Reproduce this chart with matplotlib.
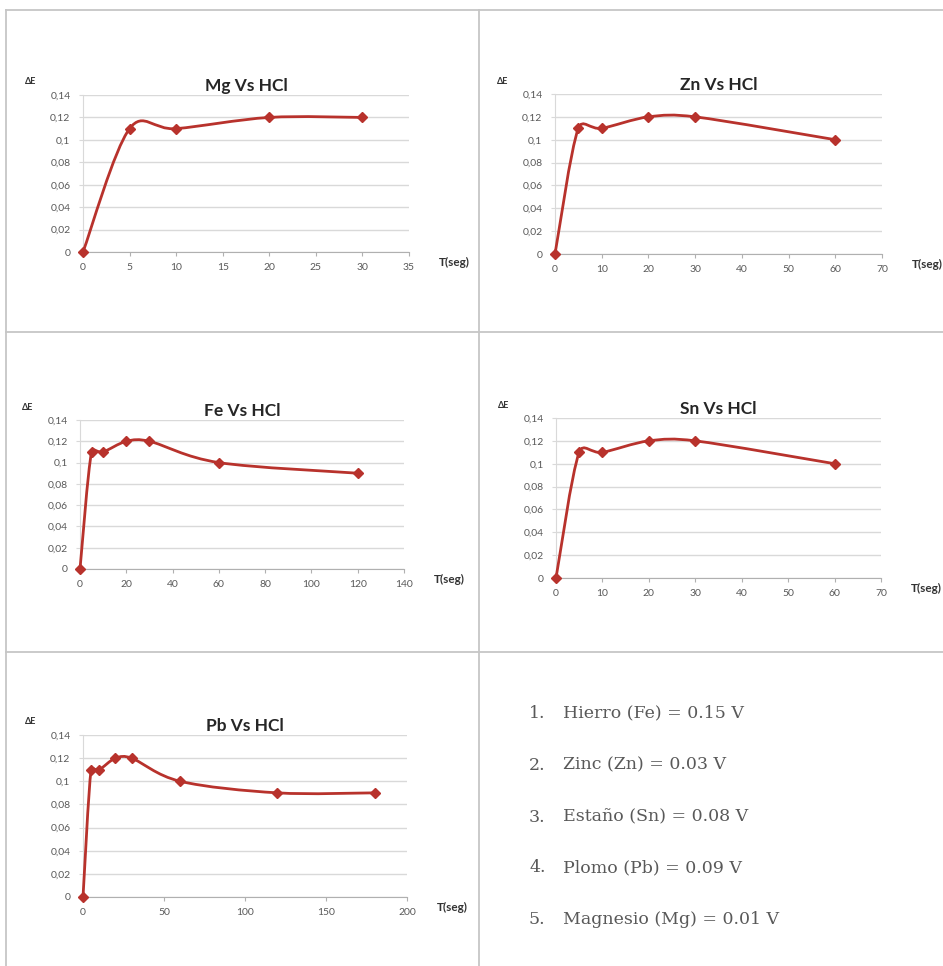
import matplotlib.pyplot as plt
from matplotlib.path import Path
from matplotlib.patches import PathPatch
from matplotlib.lines import Line2D
from matplotlib.ticker import FuncFormatter, MultipleLocator
import numpy as np

W, H = 943, 966

# datos
t_mg = [0, 5, 10, 20, 30]
e_mg = [0, 0.11, 0.11, 0.12, 0.12]
t_zn = [0, 5, 10, 20, 30, 60]
e_zn = [0, 0.11, 0.11, 0.12, 0.12, 0.10]
t_fe = [0, 5, 10, 20, 30, 60, 120]
e_fe = [0, 0.11, 0.11, 0.12, 0.12, 0.10, 0.09]
t_sn = [0, 5, 10, 20, 30, 60]
e_sn = [0, 0.11, 0.11, 0.12, 0.12, 0.10]
t_pb = [0, 5, 10, 20, 30, 60, 120, 180]
e_pb = [0, 0.11, 0.11, 0.12, 0.12, 0.10, 0.09, 0.09]

titles = ["Mg Vs HCl", "Zn Vs HCl", "Fe Vs HCl", "Sn Vs HCl", "Pb Vs HCl"]
xmax = [35, 70, 140, 70, 200]
xstep = [5, 10, 20, 10, 50]

lista = ["Hierro (Fe) = 0.15 V", "Zinc (Zn) = 0.03 V", "Estaño (Sn) = 0.08 V",
         "Plomo (Pb) = 0.09 V", "Magnesio (Mg) = 0.01 V"]

red = "#b8322c"
grid_c = "#d9d9d9"
txt_c = "#595959"
sans = "Lato"

fig = plt.figure(figsize=(W / 100, H / 100), dpi=100)


def fx(x):
    return x / W


def fy(y):
    return 1 - y / H


# bordes de la tabla
border = dict(color="#c6c6c6", lw=1.3, transform=fig.transFigure)
fig.add_artist(Line2D([fx(6), 1], [fy(10), fy(10)], **border))
fig.add_artist(Line2D([fx(6), fx(6)], [fy(10), 0], **border))
fig.add_artist(Line2D([fx(479), fx(479)], [fy(10), 0], **border))
fig.add_artist(Line2D([fx(6), 1], [fy(332), fy(332)], **border))
fig.add_artist(Line2D([fx(6), 1], [fy(652), fy(652)], **border))


def smooth(ax, x, y):
    # curva suavizada tipo Excel (Bezier por tramos, calculada en pixeles)
    P = ax.transData.transform(np.column_stack([x, y]).astype(float))
    n = len(P)
    verts = [P[0]]
    codes = [Path.MOVETO]
    for i in range(n - 1):
        p0 = P[i - 1] if i > 0 else P[i]
        p3 = P[i + 2] if i + 2 < n else P[i + 1]
        seg = np.linalg.norm(P[i + 1] - P[i])
        d1 = (P[i + 1] - p0) / 6
        d2 = (p3 - P[i]) / 6
        for d in (d1, d2):
            L = np.linalg.norm(d)
            if L > 0.5 * seg:
                d *= 0.5 * seg / L
        verts += [P[i] + d1, P[i + 1] - d2, P[i + 1]]
        codes += [Path.CURVE4] * 3
    verts = ax.transData.inverted().transform(np.array(verts))
    ax.add_patch(PathPatch(Path(verts, codes), fill=False, ec=red, lw=2,
                           clip_on=False, zorder=3))
    ax.plot(x, y, ls="none", marker="D", ms=5, color=red, clip_on=False, zorder=4)


def chart(i, x, y, left, right, top, bottom):
    ax = fig.add_axes([fx(left), fy(bottom), (right - left) / W, (bottom - top) / H])
    ax.set_xlim(0, xmax[i])
    ax.set_ylim(0, 0.14)
    ax.xaxis.set_major_locator(MultipleLocator(xstep[i]))
    ax.yaxis.set_major_locator(MultipleLocator(0.02))
    ax.yaxis.set_major_formatter(FuncFormatter(lambda v, p: f"{v:.2f}".rstrip("0").rstrip(".").replace(".", ",")))
    ax.grid(axis="y", color=grid_c, lw=1)
    ax.set_axisbelow(True)
    for s in ("top", "right"):
        ax.spines[s].set_visible(False)
    ax.spines["left"].set_color(grid_c)
    ax.spines["bottom"].set_color("#b0b0b0")
    ax.tick_params(axis="x", length=3, color="#b0b0b0", labelsize=7.5,
                   labelcolor=txt_c, pad=5)
    ax.tick_params(axis="y", length=3, color=grid_c, labelsize=7.5,
                   labelcolor=txt_c, pad=6)
    for lab in ax.get_xticklabels() + ax.get_yticklabels():
        lab.set_fontfamily(sans)
    smooth(ax, x, y)
    ax.set_title(titles[i], fontsize=12.5, fontweight="bold", family=sans,
                 color="#262626", pad=3)
    return ax


boxes = [(83, 409, 95, 252), (555, 882, 94, 254), (80, 404, 420, 569),
         (556, 881, 418, 578), (83, 407, 735, 897)]
series = [(t_mg, e_mg), (t_zn, e_zn), (t_fe, e_fe), (t_sn, e_sn), (t_pb, e_pb)]

for i, ((l, r, t, b), (x, y)) in enumerate(zip(boxes, series)):
    chart(i, x, y, l, r, t, b)
    fig.text(fx(l - 58), fy(t - 13), "ΔE", fontsize=6.5, fontweight="bold",
             family=sans, color="#333333", ha="left", va="center")
    fig.text(fx(r + 30), fy(b + 10), "T(seg)", fontsize=8.5, fontweight="bold",
             family=sans, color="#333333", ha="left", va="center")

# lista de potenciales
ys = [713, 765, 817, 868, 920]
for k, (s, yy) in enumerate(zip(lista, ys)):
    fig.text(fx(529), fy(yy), f"{k + 1}.", fontsize=12.5, family="DejaVu Serif",
             color=txt_c, ha="left", va="center")
    fig.text(fx(563), fy(yy), s, fontsize=12.5, family="DejaVu Serif",
             color=txt_c, ha="left", va="center")

fig.savefig("out.png", dpi=100, facecolor="white")
